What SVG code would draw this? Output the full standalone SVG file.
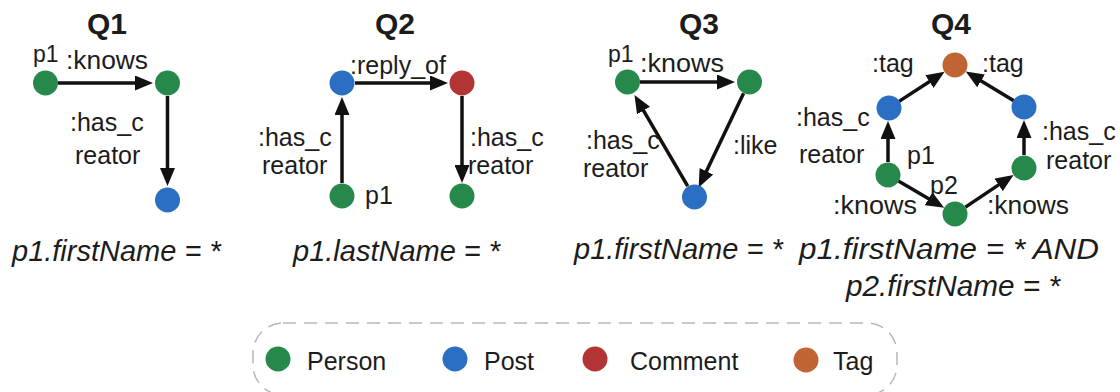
<svg xmlns="http://www.w3.org/2000/svg" width="1120" height="392" viewBox="0 0 1120 392">
  <style>
    text { font-family: "Liberation Sans", Arial, Helvetica, sans-serif; fill: #1c1c1c; }
    .title { font-size: 30px; font-weight: bold; text-anchor: middle; }
    .lbl { font-size: 25px; }
    .var { font-size: 23px; }
    .cond { font-size: 29px; font-style: italic; }
    .leg { font-size: 25px; }
    .edge { stroke: #111; stroke-width: 3.5; fill: none; marker-end: url(#arrow); }
    .person { fill: #26884a; }
    .post { fill: #2a6fc2; }
    .comment { fill: #b33434; }
    .tag { fill: #bf6432; }
    .frame { fill: none; stroke: #b8b8b8; stroke-width: 1.5; stroke-dasharray: 13 8; }
  </style>
  <defs>
    <marker id="arrow" viewBox="0 0 18 15" refX="9" refY="7.5" markerWidth="18" markerHeight="15" markerUnits="userSpaceOnUse" orient="auto">
      <path d="M0,0 L18,7.5 L0,15 z" fill="#111"/>
    </marker>
  </defs>

  <rect width="1120" height="392" fill="#fff"/>

  <!-- query titles -->
  <g id="titles">
    <text class="title" x="107" y="34">Q1</text>
    <text class="title" x="395" y="34">Q2</text>
    <text class="title" x="699" y="34">Q3</text>
    <text class="title" x="951" y="34">Q4</text>
  </g>

  <!-- edges (each ends 9px short of its arrow tip) -->
  <g id="connectors">
    <!-- Q1 -->
    <line class="edge" x1="58" y1="83" x2="144" y2="83"/>
    <line class="edge" x1="167.5" y1="96" x2="167.5" y2="177"/>
    <!-- Q2 -->
    <line class="edge" x1="342" y1="183" x2="342" y2="106"/>
    <line class="edge" x1="355" y1="83" x2="439" y2="83"/>
    <line class="edge" x1="462" y1="96" x2="462" y2="174"/>
    <!-- Q3 -->
    <line class="edge" x1="640" y1="82" x2="726" y2="82"/>
    <line class="edge" x1="743.6" y1="93.3" x2="702.5" y2="179.4"/>
    <line class="edge" x1="687.7" y1="186.2" x2="639" y2="102.8"/>
    <!-- Q4 -->
    <line class="edge" x1="888" y1="162" x2="888" y2="130"/>
    <line class="edge" x1="1024" y1="155" x2="1024" y2="129"/>
    <line class="edge" x1="899" y1="101.4" x2="937" y2="76.7"/>
    <line class="edge" x1="1013.8" y1="100.8" x2="973.4" y2="76.2"/>
    <line class="edge" x1="898.4" y1="181" x2="936.4" y2="203.2"/>
    <line class="edge" x1="965.4" y1="207.1" x2="1006.1" y2="179.9"/>
  </g>

  <!-- Q1 nodes -->
  <g id="q1-p1"><circle class="person" cx="45.5" cy="83" r="12.5"/><text class="var" x="33" y="62">p1</text></g>
  <g id="q1-friend"><circle class="person" cx="167.5" cy="83" r="12.5"/></g>
  <g id="q1-post"><circle class="post" cx="167.5" cy="200" r="12.5"/></g>
  <g id="q1-labels">
    <text class="lbl" x="66" y="69" textLength="82" lengthAdjust="spacingAndGlyphs">:knows</text>
    <text class="lbl" x="70" y="131">:has_c</text>
    <text class="lbl" x="75" y="164">reator</text>
    <text class="cond" x="12" y="261">p1.firstName = *</text>
  </g>

  <!-- Q2 nodes -->
  <g id="q2-post"><circle class="post" cx="342" cy="83" r="12.5"/></g>
  <g id="q2-comment"><circle class="comment" cx="462" cy="83" r="12.5"/></g>
  <g id="q2-p1"><circle class="person" cx="342" cy="196" r="12.5"/><text class="lbl" x="365" y="204">p1</text></g>
  <g id="q2-creator"><circle class="person" cx="462" cy="196" r="12.5"/></g>
  <g id="q2-labels">
    <text class="lbl" x="350" y="74">:reply_of</text>
    <text class="lbl" x="258" y="146">:has_c</text>
    <text class="lbl" x="262" y="174">reator</text>
    <text class="lbl" x="470" y="146">:has_c</text>
    <text class="lbl" x="468" y="174">reator</text>
    <text class="cond" x="293" y="261">p1.lastName = *</text>
  </g>

  <!-- Q3 nodes -->
  <g id="q3-p1"><circle class="person" cx="627.5" cy="82" r="12.5"/><text class="var" x="608" y="62">p1</text></g>
  <g id="q3-friend"><circle class="person" cx="749.5" cy="82" r="12.5"/></g>
  <g id="q3-post"><circle class="post" cx="694.5" cy="197" r="12.5"/></g>
  <g id="q3-labels">
    <text class="lbl" x="640" y="72" textLength="84" lengthAdjust="spacingAndGlyphs">:knows</text>
    <text class="lbl" x="586" y="149">:has_c</text>
    <text class="lbl" x="583" y="177">reator</text>
    <text class="lbl" x="733" y="154">:like</text>
    <text class="cond" x="574" y="259">p1.firstName = *</text>
  </g>

  <!-- Q4 nodes -->
  <g id="q4-tag"><circle class="tag" cx="955" cy="65" r="12.5"/></g>
  <g id="q4-post1"><circle class="post" cx="889" cy="108" r="12.5"/></g>
  <g id="q4-post2"><circle class="post" cx="1024" cy="107" r="12.5"/></g>
  <g id="q4-p1"><circle class="person" cx="888" cy="175" r="12.5"/><text class="lbl" x="907" y="164">p1</text></g>
  <g id="q4-friend"><circle class="person" cx="1024" cy="168" r="12.5"/></g>
  <g id="q4-p2"><circle class="person" cx="955" cy="214" r="12.5"/><text class="lbl" x="930" y="194">p2</text></g>
  <g id="q4-labels">
    <text class="lbl" x="872" y="72">:tag</text>
    <text class="lbl" x="982" y="72">:tag</text>
    <text class="lbl" x="796" y="126">:has_c</text>
    <text class="lbl" x="799" y="163">reator</text>
    <text class="lbl" x="1042" y="140">:has_c</text>
    <text class="lbl" x="1046" y="169">reator</text>
    <text class="lbl" x="833" y="214" textLength="84" lengthAdjust="spacingAndGlyphs">:knows</text>
    <text class="lbl" x="987" y="214" textLength="82" lengthAdjust="spacingAndGlyphs">:knows</text>
    <text class="cond" x="799" y="259" textLength="300" lengthAdjust="spacingAndGlyphs">p1.firstName = * AND</text>
    <text class="cond" x="846" y="296" textLength="214" lengthAdjust="spacingAndGlyphs">p2.firstName = *</text>
  </g>

  <!-- legend -->
  <g id="legend">
    <rect class="frame" x="253" y="323" width="644" height="72" rx="30" ry="30"/>
    <circle class="person" cx="278" cy="359" r="12.5"/>
    <text class="leg" x="307" y="370">Person</text>
    <circle class="post" cx="455" cy="359" r="12.5"/>
    <text class="leg" x="484" y="370">Post</text>
    <circle class="comment" cx="595" cy="359" r="12.5"/>
    <text class="leg" x="630" y="370">Comment</text>
    <circle class="tag" cx="806" cy="360" r="12.5"/>
    <text class="leg" x="833" y="370">Tag</text>
  </g>
</svg>
